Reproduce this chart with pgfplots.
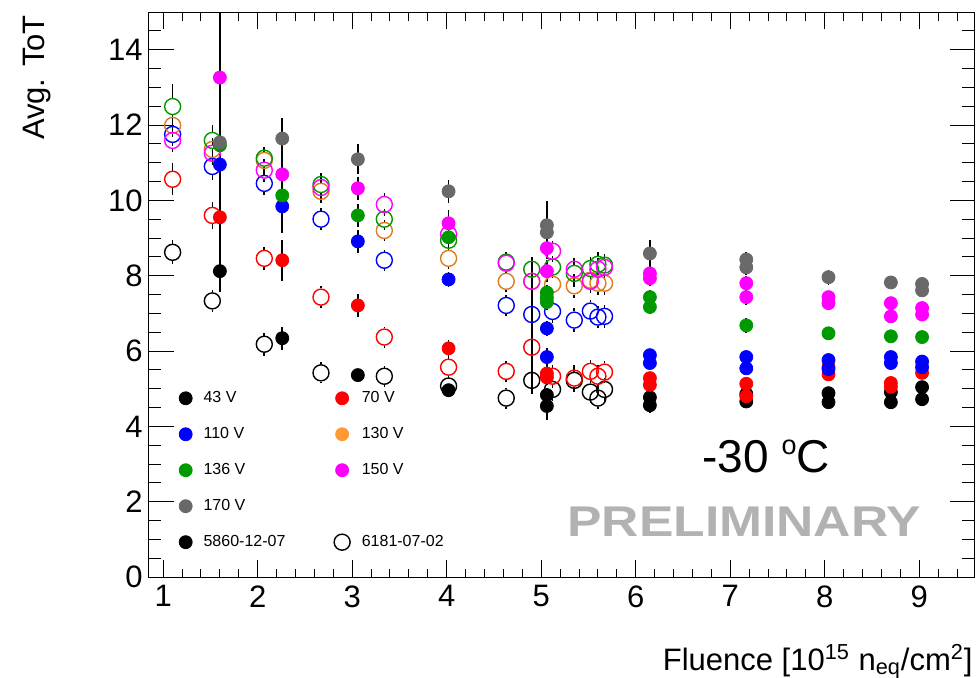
\documentclass[border=0pt]{standalone}
\usepackage{fontspec}
\setmainfont{Liberation Sans}
\usepackage{pgfplots}
\pgfplotsset{compat=1.18}
\usepackage{pgfplotstable}

\definecolor{cgreen}{RGB}{0,153,0}
\definecolor{cgray}{RGB}{105,105,105}
\definecolor{corange}{RGB}{224,122,31}
\definecolor{corangeL}{RGB}{255,153,51}
\definecolor{cmag}{RGB}{255,0,255}
\definecolor{cprelim}{RGB}{178,178,178}

% ---------- sensor 5860-12-07 (filled markers): fluence, avg ToT, error
\pgfplotstableread{
x y e
1.60 8.12 0.53
2.26 6.34 0.30
3.06 5.36 0.15
4.02 4.96 0.10
5.06 4.83 0.20
5.06 4.54 0.38
6.15 4.77 0.20
6.15 4.56 0.21
7.17 4.86 0.15
7.17 4.66 0.15
8.04 4.88 0.15
8.04 4.64 0.15
8.70 4.91 0.12
8.70 4.64 0.12
9.03 5.04 0.12
9.03 4.72 0.12
}\fA
\pgfplotstableread{
x y e
1.60 9.55 0.30
2.26 8.41 0.55
3.06 7.21 0.30
4.02 6.07 0.22
5.06 5.40 0.20
5.06 5.30 0.20
6.15 5.28 0.15
6.15 5.10 0.15
7.17 5.13 0.15
7.17 4.80 0.15
8.04 5.58 0.15
8.04 5.38 0.15
8.70 5.15 0.15
8.70 5.05 0.15
9.03 5.42 0.12
}\fB
\pgfplotstableread{
x y e
1.60 10.95 0.30
2.26 9.84 0.70
3.06 8.91 0.30
4.02 7.90 0.20
5.06 6.60 0.20
5.06 5.84 0.25
6.15 5.89 0.15
6.15 5.68 0.15
7.17 5.84 0.15
7.17 5.54 0.15
8.04 5.76 0.15
8.04 5.52 0.15
8.70 5.84 0.15
8.70 5.68 0.15
9.03 5.72 0.12
9.03 5.57 0.12
}\fC
\pgfplotstableread{
x y e
1.60 11.46 0.30
2.26 10.13 0.50
3.06 9.60 0.30
4.02 9.02 0.30
5.06 7.55 0.20
5.06 7.42 0.20
5.06 7.30 0.20
6.15 7.43 0.20
6.15 7.17 0.20
7.17 6.68 0.20
8.04 6.47 0.15
8.70 6.39 0.15
9.03 6.37 0.15
}\fE
\pgfplotstableread{
x y e
1.60 13.26 5.70
2.26 10.69 0.40
3.06 10.32 0.30
4.02 9.39 0.35
5.06 8.73 0.30
5.06 8.12 0.30
6.15 8.06 0.20
6.15 7.93 0.20
7.17 7.80 0.20
7.17 7.43 0.20
8.04 7.43 0.15
8.04 7.27 0.15
8.70 7.27 0.15
8.70 6.92 0.15
9.03 7.14 0.15
9.03 6.97 0.15
}\fF
\pgfplotstableread{
x y e
1.60 11.54 0.40
2.26 11.64 0.55
3.06 11.09 0.40
4.02 10.24 0.30
5.06 9.34 0.65
5.06 9.15 0.50
6.15 8.59 0.35
7.17 8.43 0.20
7.17 8.22 0.20
8.04 7.96 0.20
8.70 7.82 0.15
9.03 7.78 0.15
9.03 7.61 0.15
}\fG

% ---------- sensor 6181-07-02 (open markers)
\pgfplotstableread{
x y e
1.10 8.62 0.32
1.52 7.33 0.30
2.07 6.18 0.30
2.67 5.42 0.28
3.34 5.33 0.28
4.02 5.07 0.28
4.63 4.75 0.28
4.90 5.22 0.35
5.12 4.98 0.30
5.35 5.22 0.30
5.52 4.91 0.30
5.60 4.75 0.30
5.67 4.98 0.30
}\oA
\pgfplotstableread{
x y e
1.10 10.56 0.43
1.52 9.60 0.35
2.07 8.46 0.30
2.67 7.43 0.30
3.34 6.37 0.28
4.02 5.57 0.28
4.63 5.46 0.28
4.90 6.10 1.25
5.12 5.33 0.30
5.35 5.28 0.35
5.52 5.46 0.30
5.60 5.33 0.30
5.67 5.44 0.30
}\oB
\pgfplotstableread{
x y e
1.10 11.75 0.30
1.52 10.90 0.35
2.07 10.45 0.32
2.67 9.50 0.30
3.34 8.41 0.28
4.63 7.21 0.28
4.90 6.97 1.50
5.12 7.05 0.30
5.35 6.82 0.32
5.52 7.06 0.30
5.60 6.90 0.30
5.67 6.92 0.30
}\oC
\pgfplotstableread{
x y e
1.10 11.99 0.30
1.52 11.35 0.30
2.07 11.06 0.30
2.67 10.24 0.30
3.34 9.20 0.28
4.02 8.46 0.28
4.63 7.85 0.28
4.90 7.85 0.30
5.12 7.77 0.28
5.35 7.73 0.32
5.52 7.88 0.30
5.60 7.80 0.30
5.67 7.80 0.30
}\oD
\pgfplotstableread{
x y e
1.10 12.49 0.60
1.52 11.59 0.40
2.07 11.12 0.30
2.67 10.42 0.30
3.34 9.50 0.28
4.02 8.94 0.28
4.63 8.36 0.28
4.90 8.17 0.32
5.12 8.23 0.28
5.35 8.06 0.35
5.52 8.19 0.30
5.60 8.30 0.32
5.67 8.28 0.30
}\oE
\pgfplotstableread{
x y e
1.10 11.59 0.30
1.52 11.25 0.30
2.07 10.80 0.30
2.67 10.34 0.30
3.34 9.89 0.30
4.02 9.10 0.30
4.63 8.33 0.28
4.90 7.85 0.30
5.12 8.65 0.28
5.35 8.17 0.30
5.52 7.85 0.30
5.60 8.17 0.30
5.67 8.22 0.30
}\oF

% radius of the open circle in data units (4pt on a 282.5pt tall axis spanning 15)
\def\rgap{0.23}

\pgfplotsset{
  ebar/.style={draw=none, mark=none,
    error bars/y dir=both, error bars/y explicit, error bars/error mark=none,
    error bars/error bar style={draw=black, line width=0.8pt}},
  eup/.style={draw=none, mark=none,
    error bars/y dir=plus, error bars/y explicit, error bars/error mark=none,
    error bars/error bar style={draw=black, line width=0.8pt}},
  edn/.style={draw=none, mark=none,
    error bars/y dir=minus, error bars/y explicit, error bars/error mark=none,
    error bars/error bar style={draw=black, line width=0.8pt}},
  filled/.style={only marks, color=#1, mark=*, mark size=3.25pt,
    mark options={draw=#1, fill=#1}},
  hollow/.style={only marks, color=#1, mark=o, mark size=4pt,
    mark options={draw=#1, line width=0.7pt}},
  lfill/.style={legend image code/.code={\fill[#1] (0pt,0pt) circle[radius=3.25pt];}},
  lopen/.style={legend image code/.code={\draw[#1, line width=0.7pt] (0pt,0pt) circle[radius=4pt];}},
}

\newcommand\openbars[1]{%
  \addplot[forget plot, eup] table[x=x, y expr=\thisrow{y}+\rgap,
    y error plus expr={max(\thisrow{e}-\rgap,0)}] {#1};
  \addplot[forget plot, edn] table[x=x, y expr=\thisrow{y}-\rgap,
    y error minus expr={max(\thisrow{e}-\rgap,0)}] {#1};
}
\newcommand\filledbars[1]{%
  \addplot[forget plot, ebar] table[x=x, y=y, y error=e] {#1};
}

\begin{document}
\begin{tikzpicture}
\useasboundingbox (-74.5pt,-50pt) rectangle (415.5pt,288.5pt);
\begin{axis}[
  scale only axis, width=413pt, height=282.5pt,
  xmin=0.85, xmax=9.59, ymin=0, ymax=15,
  xtick={1,...,9}, ytick={0,2,...,14},
  minor xtick={1,1.2,...,9.4}, minor ytick={0,0.5,...,14.5},
  tick align=inside,
  axis line style={line width=0.5pt},
  every tick/.style={black, line width=0.5pt},
  xtick style={/pgfplots/major tick length=8.5pt, /pgfplots/minor tick length=4.25pt},
  ytick style={/pgfplots/major tick length=12.5pt, /pgfplots/minor tick length=6.25pt},
  tick label style={font=\fontsize{15.5}{18}\selectfont},
  /pgf/number format/assume math mode=true,
  xticklabel style={inner sep=0pt, yshift=-4pt},
  yticklabel style={inner sep=0pt, xshift=-3pt},
  label style={font=\fontsize{15.5}{18}\selectfont, inner sep=0pt},
  xlabel={Fluence [10\textsuperscript{15} n\textsubscript{eq}/cm\textsuperscript{2}]},
  xlabel style={at={(rel axis cs:1,0)}, anchor=base east, xshift=-1pt, yshift=-46.5pt},
  ylabel={Avg. ToT},
  ylabel style={at={(rel axis cs:-0.127,0.995)}, anchor=base east},
  legend columns=2,
  legend cell align=left,
  legend style={at={(axis cs:1.161,5.05)}, anchor=north west, draw=none, fill=none,
    inner sep=0pt, font=\fontsize{8}{9}\selectfont, row sep=6.9pt,
    /tikz/every odd column/.append style={column sep=3.5pt},
    /tikz/every even column/.append style={column sep=22pt}},
]
% error bars first, so that the markers sit on top of them
\openbars{\oA}\openbars{\oB}\openbars{\oC}
\openbars{\oD}\openbars{\oE}\openbars{\oF}
\filledbars{\fA}\filledbars{\fB}\filledbars{\fC}
\filledbars{\fE}\filledbars{\fF}\filledbars{\fG}

% sensor 6181-07-02
\addplot[forget plot, hollow=black] table[x=x, y=y] {\oA};
\addplot[forget plot, hollow=red] table[x=x, y=y] {\oB};
\addplot[forget plot, hollow=blue] table[x=x, y=y] {\oC};
\addplot[forget plot, hollow=corange] table[x=x, y=y] {\oD};
\addplot[forget plot, hollow=cgreen] table[x=x, y=y] {\oE};
\addplot[forget plot, hollow=cmag] table[x=x, y=y] {\oF};
% sensor 5860-12-07
\addplot[forget plot, filled=black] table[x=x, y=y] {\fA};
\addplot[forget plot, filled=red] table[x=x, y=y] {\fB};
\addplot[forget plot, filled=blue] table[x=x, y=y] {\fC};
\addplot[forget plot, filled=cgreen] table[x=x, y=y] {\fE};
\addplot[forget plot, filled=cmag] table[x=x, y=y] {\fF};
\addplot[forget plot, filled=cgray] table[x=x, y=y] {\fG};

\addlegendimage{lfill=black}\addlegendentry{43 V}
\addlegendimage{lfill=red}\addlegendentry{70 V}
\addlegendimage{lfill=blue}\addlegendentry{110 V}
\addlegendimage{lfill=corangeL}\addlegendentry{130 V}
\addlegendimage{lfill=cgreen}\addlegendentry{136 V}
\addlegendimage{lfill=cmag}\addlegendentry{150 V}
\addlegendimage{lfill=cgray}\addlegendentry{170 V}
\addlegendimage{empty legend}\addlegendentry{}
\addlegendimage{lfill=black}\addlegendentry{5860-12-07}
\addlegendimage{lopen=black}\addlegendentry{6181-07-02}

\node[anchor=base west, inner sep=0pt, font=\fontsize{23}{26}\selectfont]
  at (axis cs:6.70,2.763) {-30 \raisebox{9pt}{\fontsize{13.5}{14}\selectfont o}C};
\node[anchor=base west, inner sep=0pt, text=cprelim, xscale=1.2,
  font=\fontsize{21.5}{24}\selectfont\bfseries]
  at (axis cs:5.272,1.063) {PRELIMINARY};
\end{axis}
\end{tikzpicture}
\end{document}
